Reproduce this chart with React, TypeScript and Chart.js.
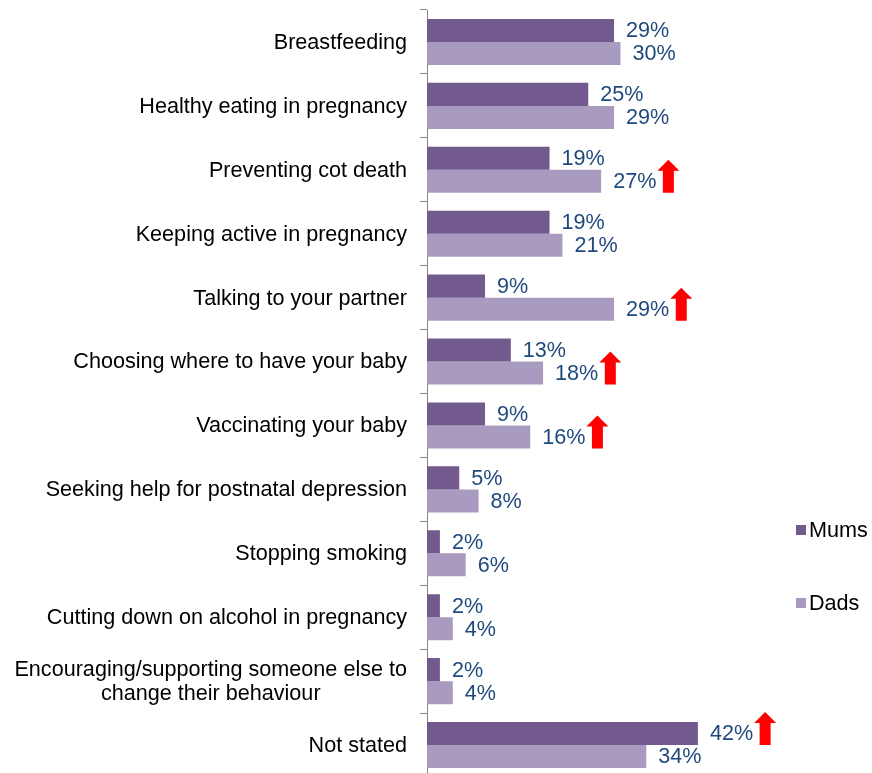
import React, { useEffect, useRef } from 'react';
import { Chart, registerables } from 'chart.js';

Chart.register(...registerables);

const categories: string[][] = [
  ['Breastfeeding'],
  ['Healthy eating in pregnancy'],
  ['Preventing cot death'],
  ['Keeping active in pregnancy'],
  ['Talking to your partner'],
  ['Choosing where to have your baby'],
  ['Vaccinating your baby'],
  ['Seeking help for postnatal depression'],
  ['Stopping smoking'],
  ['Cutting down on alcohol in pregnancy'],
  ['Encouraging/supporting someone else to', 'change their behaviour'],
  ['Not stated'],
];
const mums = [29, 25, 19, 19, 9, 13, 9, 5, 2, 2, 2, 42];
const dads = [30, 29, 27, 21, 29, 18, 16, 8, 6, 4, 4, 34];
const mumsUp = [false, false, false, false, false, false, false, false, false, false, false, true];
const dadsUp = [false, false, true, false, true, true, true, false, false, false, false, false];
const seriesNames = ['Mums', 'Dads'];

const MUMS_COLOR = '#725A8E';
const DADS_COLOR = '#A99BBF';
const LABEL_COLOR = '#1F497D';
const FONT = '21.6px Arial, "Liberation Sans", sans-serif';

function drawArrow(ctx: CanvasRenderingContext2D, left: number, top: number, bottom: number) {
  const headW = 22;
  const shaftW = 11;
  const headH = 11;
  const cx = left + headW / 2;
  ctx.save();
  ctx.fillStyle = '#FF0000';
  ctx.beginPath();
  ctx.moveTo(cx, top);
  ctx.lineTo(left + headW, top + headH);
  ctx.lineTo(cx + shaftW / 2, top + headH);
  ctx.lineTo(cx + shaftW / 2, bottom);
  ctx.lineTo(cx - shaftW / 2, bottom);
  ctx.lineTo(cx - shaftW / 2, top + headH);
  ctx.lineTo(left, top + headH);
  ctx.closePath();
  ctx.fill();
  ctx.restore();
}

const customPlugin = {
  id: 'custom',
  afterDatasetsDraw(chart: any) {
    const ctx: CanvasRenderingContext2D = chart.ctx;
    const flags = [mumsUp, dadsUp];
    ctx.save();
    ctx.font = FONT;
    ctx.textBaseline = 'middle';
    ctx.textAlign = 'left';
    chart.data.datasets.forEach((ds: any, di: number) => {
      const meta = chart.getDatasetMeta(di);
      meta.data.forEach((el: any, i: number) => {
        const text = ds.data[i] + '%';
        const tx = el.x + 12;
        ctx.fillStyle = LABEL_COLOR;
        ctx.fillText(text, tx, el.y + 1);
        if (flags[di][i]) {
          const w = ctx.measureText(text).width;
          const top = el.y - el.height / 2 - 10;
          const bottom = el.y + el.height / 2;
          drawArrow(ctx, tx + w + 1, top, bottom);
        }
      });
    });
    ctx.restore();
  },
  afterDraw(chart: any) {
    const ctx: CanvasRenderingContext2D = chart.ctx;
    const yScale = chart.scales.y;
    ctx.save();
    ctx.font = FONT;
    ctx.fillStyle = '#000000';
    ctx.textBaseline = 'middle';
    const rightX = 407;
    const lineH = 24;
    categories.forEach((lines, i) => {
      const y = yScale.getPixelForValue(i);
      if (lines.length === 1) {
        ctx.textAlign = 'right';
        ctx.fillText(lines[0], rightX, y + 1);
      } else {
        const widest = Math.max(...lines.map((l) => ctx.measureText(l).width));
        const cx = rightX - widest / 2;
        ctx.textAlign = 'center';
        const startY = y - ((lines.length - 1) * lineH) / 2;
        lines.forEach((l, k) => ctx.fillText(l, cx, startY + k * lineH + 1));
      }
    });
    // legend
    const legendItems = [
      { name: seriesNames[0], color: MUMS_COLOR, y: 530 },
      { name: seriesNames[1], color: DADS_COLOR, y: 603 },
    ];
    ctx.textAlign = 'left';
    legendItems.forEach((it) => {
      ctx.fillStyle = it.color;
      ctx.fillRect(796, it.y - 5, 10, 10);
      ctx.fillStyle = '#000000';
      ctx.fillText(it.name, 809, it.y + 1);
    });
    ctx.restore();
  },
};

export default function App() {
  const ref = useRef<HTMLCanvasElement | null>(null);
  useEffect(() => {
    if (!ref.current) return;
    const chart = new Chart(ref.current, {
      type: 'bar',
      data: {
        labels: categories.map((c) => c.join(' ')),
        datasets: [
          { label: seriesNames[0], data: mums, backgroundColor: MUMS_COLOR, barPercentage: 1, categoryPercentage: 0.72 },
          { label: seriesNames[1], data: dads, backgroundColor: DADS_COLOR, barPercentage: 1, categoryPercentage: 0.72 },
        ],
      },
      options: {
        indexAxis: 'y',
        responsive: false,
        animation: false,
        devicePixelRatio: 1,
        layout: { padding: { left: 420, right: 122.5, top: 10, bottom: 13 } },
        plugins: { legend: { display: false }, tooltip: { enabled: false } },
        scales: {
          x: { display: false, min: 0, max: 50 },
          y: {
            display: true,
            ticks: { display: false },
            grid: { display: true, drawOnChartArea: false, drawTicks: true, tickLength: 7, color: '#868686', offset: true },
            border: { display: true, color: '#868686', width: 1 },
          },
        },
      },
      plugins: [customPlugin],
    });
    return () => chart.destroy();
  }, []);
  return (
    <div style={{ position: 'absolute', left: 0, top: 0, width: 872, height: 773, overflow: 'hidden', background: '#fff' }}>
      <canvas ref={ref} width={872} height={790} style={{ display: 'block' }} />
    </div>
  );
}
